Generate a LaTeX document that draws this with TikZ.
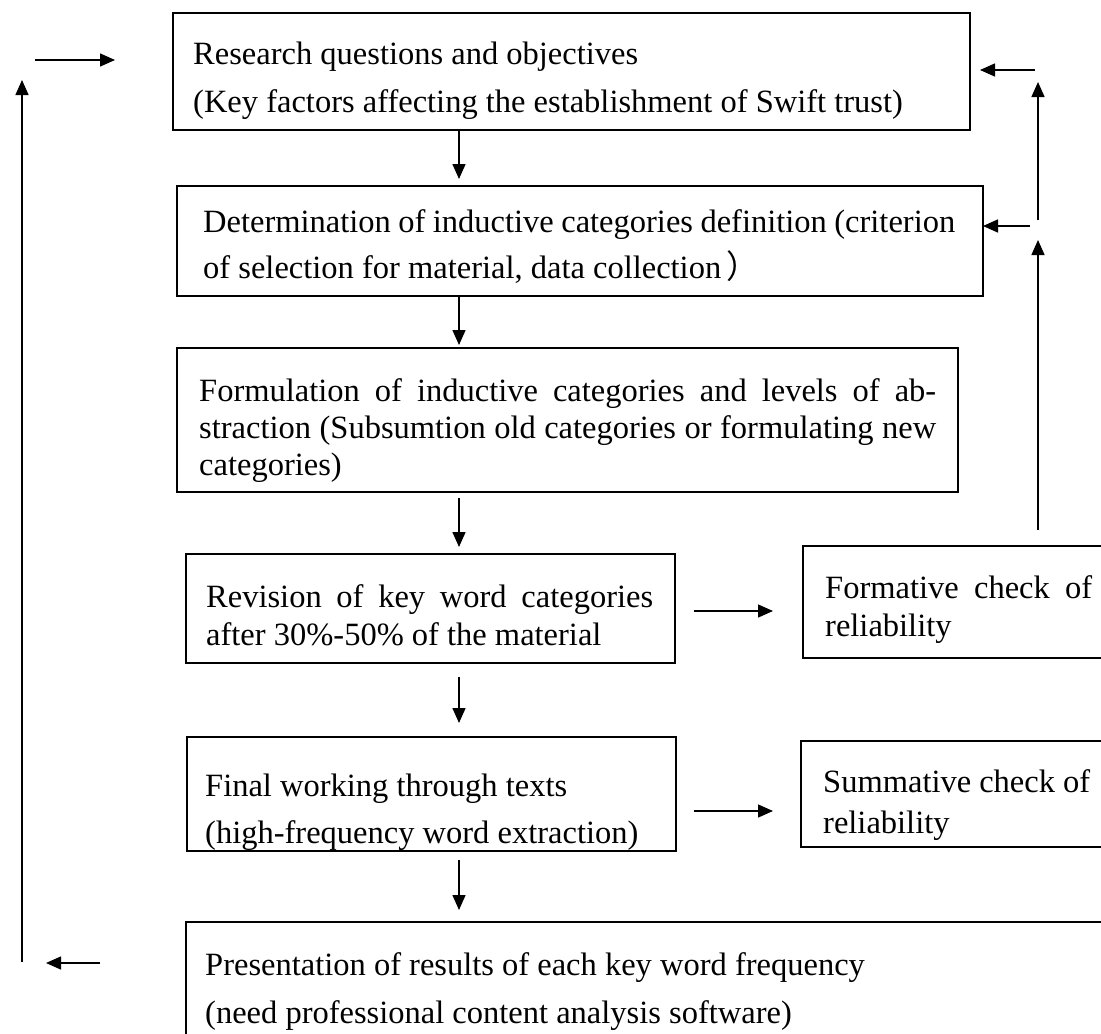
\documentclass[tikz,border=0pt]{standalone}
\usepackage{fontspec}
\setmainfont{Liberation Serif}
\newfontfamily\cjkfont{Noto Sans CJK SC}
\usetikzlibrary{arrows.meta,calc}

\tikzset{
  box/.style={draw, line width=1.5pt, rectangle, inner sep=0pt, outer sep=0pt, anchor=north west},
  txt/.style={inner sep=0pt, anchor=base west, font=\fontsize{32.5}{37}\selectfont},
  arr/.style={line width=1.5pt, -{Triangle[length=15pt,width=13pt]}},
}
% justified line of a given width
\newcommand{\jline}[1]{\makebox[\linewidth][s]{#1}}

\begin{document}
\begin{tikzpicture}[x=1pt,y=-1pt]
  \clip (0,0) rectangle (1101,1034);
  \fill[white] (0,0) rectangle (1101,1034);

  % --- process boxes ---
  \node[box, minimum width=797pt, minimum height=117pt] (b1) at (173,13) {};
  \node[box, minimum width=806pt, minimum height=110pt] (b2) at (177,186) {};
  \node[box, minimum width=781pt, minimum height=144pt] (b3) at (177,348) {};
  \node[box, minimum width=489pt, minimum height=109pt] (b4) at (186,554) {};
  \node[box, minimum width=340pt, minimum height=112pt] (bf) at (803,546) {};
  \node[box, minimum width=489pt, minimum height=114pt] (b5) at (187,737) {};
  \node[box, minimum width=340pt, minimum height=106pt] (bs) at (801,741) {};
  \node[box, minimum width=960pt, minimum height=140pt] (b6) at (186,922) {};

  % --- box texts ---
  \node[txt] (t1) at (193,64) {\parbox[t]{770pt}{\setlength\baselineskip{48pt}%
    Research questions and objectives\\
    (Key factors affecting the establishment of Swift trust)}};
  \node[txt] (t2) at (203,232) {\parbox[t]{752pt}{\setlength\baselineskip{46pt}%
    \jline{Determination of inductive categories definition (criterion}\\
    of selection for material, data collection\,{\cjkfont ）}}};
  \node[txt] (t3) at (199,401) {\parbox[t]{737pt}{\setlength\baselineskip{37pt}%
    \jline{Formulation of inductive categories and levels of ab-}\\
    \jline{straction (Subsumtion old categories or formulating new}\\
    categories)}};
  \node[txt] (t4) at (206,607) {\parbox[t]{447pt}{\setlength\baselineskip{38pt}%
    \jline{Revision of key word categories}\\
    after 30\%-50\% of the material}};
  \node[txt] (tf) at (825,598) {\parbox[t]{267pt}{\setlength\baselineskip{38pt}%
    \jline{Formative check of}\\
    reliability}};
  \begin{scope}
    \clip (b5.north west) rectangle (b5.south east);
    \node[txt] (t5) at (205,796) {\parbox[t]{460pt}{\setlength\baselineskip{47pt}%
      Final working through texts\\
      (high-frequency word extraction)}};
  \end{scope}
  \begin{scope}
    \clip (bs.north west) rectangle (bs.south east);
    \node[txt] (ts) at (823,792) {\parbox[t]{267pt}{\setlength\baselineskip{41pt}%
      \jline{Summative check of}\\
      reliability}};
  \end{scope}
  \node[txt] (t6) at (205,975) {\parbox[t]{880pt}{\setlength\baselineskip{48pt}%
    Presentation of results of each key word frequency\\
    (need professional content analysis software)}};

  % --- main flow ---
  \coordinate (ax) at (459,0);
  \draw[arr, shorten <=1pt, shorten >=7pt]  (ax |- b1.south) -- (ax |- b2.north);
  \draw[arr, shorten <=1pt, shorten >=3pt]  (ax |- b2.south) -- (ax |- b3.north);
  \draw[arr, shorten <=6pt, shorten >=7pt]  (ax |- b3.south) -- (ax |- b4.north);
  \draw[arr, shorten <=14pt, shorten >=14pt] (ax |- b4.south) -- (ax |- b5.north);
  \draw[arr, shorten <=9pt, shorten >=12pt] (ax |- b5.south) -- (ax |- b6.north);

  % --- side checks ---
  \coordinate (h1) at (0,611);
  \coordinate (h2) at (0,811);
  \draw[arr, shorten <=19pt, shorten >=30pt] (b4.east |- h1) -- (bf.west |- h1);
  \draw[arr, shorten <=18pt, shorten >=28pt] (b5.east |- h2) -- (bs.west |- h2);

  % --- feedback on the right ---
  \coordinate (r1) at (1038,530);
  \coordinate (r2) at (1038,240);
  \coordinate (r3) at (1030,226);
  \coordinate (r4) at (1038,220);
  \coordinate (r5) at (1038,82);
  \coordinate (r6) at (1035,70);
  \draw[arr] (r1) -- (r2);
  \draw[arr] (r3) -- (b2.east |- r3);
  \draw[arr] (r4) -- (r5);
  \draw[arr, shorten >=10pt] (r6) -- (b1.east |- r6);

  % --- feedback on the left ---
  \coordinate (l1) at (100,963);
  \coordinate (l2) at (46,963);
  \coordinate (l3) at (22,962);
  \coordinate (l4) at (22,80);
  \coordinate (l5) at (35,60);
  \coordinate (l6) at (115,60);
  \draw[arr] (l1) -- (l2);
  \draw[arr] (l3) -- (l4);
  \draw[arr] (l5) -- (l6);
\end{tikzpicture}
\end{document}
